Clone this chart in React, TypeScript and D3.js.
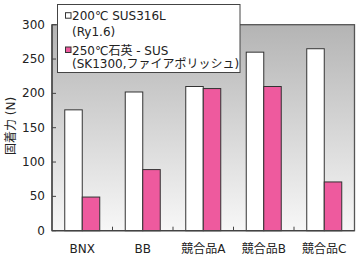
import React from "react";
import * as d3 from "d3";

const categories = ["BNX", "BB", "競合品A", "競合品B", "競合品C"];
const series200 = [176, 202, 210, 260, 265];
const series250 = [49, 89, 207, 210, 71];
const yTicks = [0, 50, 100, 150, 200, 250, 300];
const legendLines = [
  { text: "200℃ SUS316L", marker: "#ffffff" },
  { text: "(Ry1.6)", marker: null },
  { text: "250℃石英 - SUS", marker: "#ee5a9e" },
  { text: "(SK1300,ファイアポリッシュ)", marker: null },
];
const yLabel = "固着力 (N)";

const W = 360, H = 258;
const M = { left: 52, right: 5.5, top: 24.7, bottom: 27.3 };
const FONT = "'DejaVu Sans', 'Noto Sans CJK JP', sans-serif";

export default function App() {
  const x = d3.scaleBand<string>().domain(categories).range([M.left, W - M.right]).paddingInner(0).paddingOuter(0);
  const y = d3.scaleLinear().domain([0, 300]).range([H - M.bottom, M.top]);
  const bw = 17.5;
  const plotW = W - M.right - M.left;
  const plotH = H - M.bottom - M.top;
  return (
    <svg width={W} height={H} style={{ position: "absolute", left: 0, top: 0 }} fontFamily={FONT}>
      <defs>
        <linearGradient id="bg" x1="0" y1="0" x2="0" y2="1">
          <stop offset="0" stopColor="#b4b4b4" />
          <stop offset="1" stopColor="#f7f7f7" />
        </linearGradient>
      </defs>
      <rect x={0} y={0} width={W} height={H} fill="#ffffff" />
      <rect x={M.left} y={M.top} width={plotW} height={plotH} fill="url(#bg)" stroke="#555" strokeWidth={1.3} />
      {categories.map((c, i) => {
        const cx = (x(c) as number) + x.bandwidth() / 2;
        return (
          <g key={c}>
            <rect x={cx - bw} y={y(series200[i])} width={bw} height={y(0) - y(series200[i])} fill="#ffffff" stroke="#333" strokeWidth={1} />
            <rect x={cx} y={y(series250[i])} width={bw} height={y(0) - y(series250[i])} fill="#ee5a9e" stroke="#333" strokeWidth={1} />
            <text x={cx} y={H - M.bottom + 22} textAnchor="middle" fontSize={12} fill="#222">{c}</text>
          </g>
        );
      })}
      {categories.slice(1).map((c) => (
        <line key={c} x1={x(c)} x2={x(c)} y1={y(0)} y2={y(0) - 4} stroke="#444" strokeWidth={1} />
      ))}
      {yTicks.map((t) => (
        <g key={t}>
          <line x1={M.left} x2={M.left + 4} y1={y(t)} y2={y(t)} stroke="#444" strokeWidth={1} />
          <text x={M.left - 7} y={y(t) + 4} textAnchor="end" fontSize={12} fill="#222">{t}</text>
        </g>
      ))}
      <line x1={M.left} x2={M.left} y1={M.top} y2={y(0)} stroke="#444" strokeWidth={1.3} />
      <line x1={M.left} x2={W - M.right} y1={y(0)} y2={y(0)} stroke="#444" strokeWidth={1.3} />
      <text transform={`translate(15,126) rotate(-90)`} textAnchor="middle" fontSize={12} fill="#222">{yLabel}</text>
      <rect x={57.5} y={4.5} width={182.5} height={68} fill="#ffffff" stroke="#444" strokeWidth={1} />
      {legendLines.map((l, i) => {
        const cy = [15.7, 31.7, 50, 63.3][i];
        return (
          <g key={i}>
            {l.marker && <rect x={65.5} y={cy - 3} width={5.5} height={5.5} fill={l.marker} stroke="#333" strokeWidth={1} />}
            <text x={72} y={cy + 4.5} fontSize={12} fill="#222">{l.text}</text>
          </g>
        );
      })}
    </svg>
  );
}
